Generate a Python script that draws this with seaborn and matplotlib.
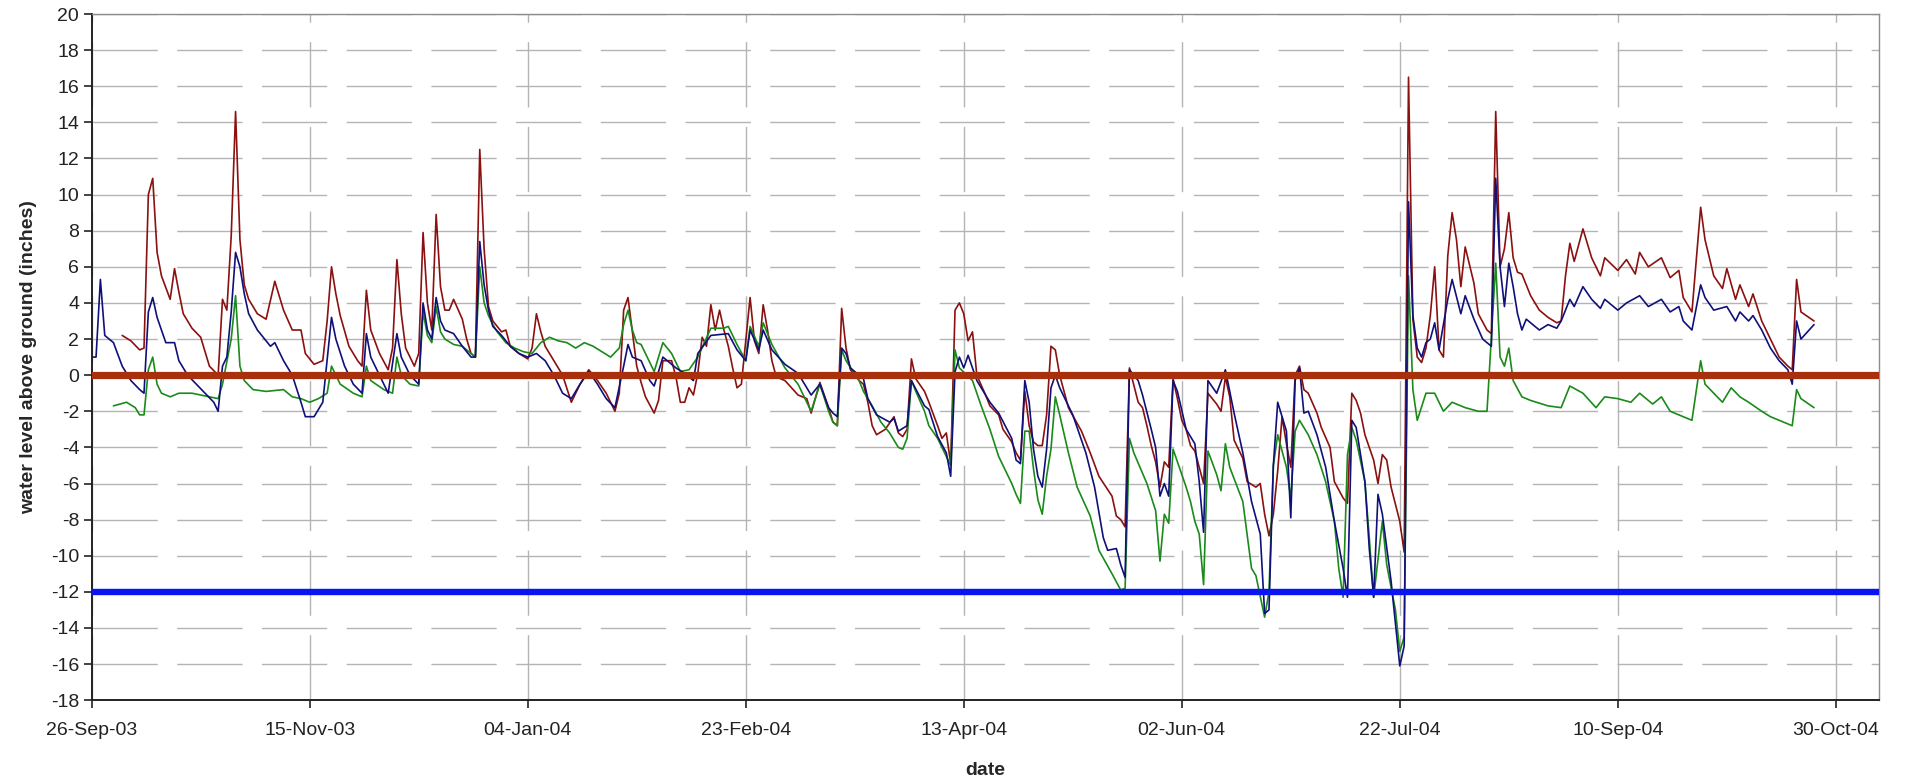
import pandas as pd
import matplotlib
matplotlib.use('Agg')
import matplotlib.pyplot as plt
import matplotlib.dates as mdates
import seaborn as sns

START = pd.Timestamp('2003-09-26')

# (day since 26-Sep-03, water level in inches)
red_pts = [(7, 2.2), (9, 1.9), (11, 1.4), (12, 1.5), (13, 10.0), (14, 10.9), (15, 6.8), (16, 5.5), (18, 4.2), (19, 5.9), (20, 4.6), (21, 3.4), (23, 2.6), (25, 2.1), (27, 0.5), (29, 0.0), (30, 4.2), (31, 3.6), (32, 7.7), (33, 14.6), (34, 7.5), (35, 5.0), (36, 4.2), (38, 3.4), (40, 3.1), (42, 5.2), (44, 3.6), (46, 2.5), (48, 2.5), (49, 1.2), (51, 0.6), (53, 0.8), (54, 3.0), (55, 6.0), (56, 4.5), (57, 3.3), (59, 1.6), (61, 0.8), (62, 0.5), (63, 4.7), (64, 2.5), (66, 1.2), (68, 0.3), (69, 1.5), (70, 6.4), (71, 3.4), (72, 1.5), (74, 0.5), (75, 1.2), (76, 7.9), (77, 4.0), (78, 2.5), (79, 8.9), (80, 4.9), (81, 3.6), (82, 3.6), (83, 4.2), (85, 3.1), (86, 2.0), (87, 1.2), (88, 1.0), (89, 12.5), (90, 7.0), (91, 3.8), (92, 3.0), (94, 2.4), (95, 2.5), (96, 1.6), (98, 1.2), (100, 0.9), (101, 1.5), (102, 3.4), (103, 2.4), (104, 1.6), (106, 0.8), (108, 0.0), (110, -1.5), (112, -0.5), (114, 0.3), (116, -0.3), (118, -1.0), (120, -2.0), (121, -1.0), (122, 3.6), (123, 4.3), (124, 2.4), (125, 0.5), (126, -0.4), (127, -1.2), (129, -2.1), (130, -1.4), (131, 0.8), (133, 0.8), (134, -0.1), (135, -1.5), (136, -1.5), (137, -0.7), (138, -1.1), (139, 0.1), (140, 2.1), (141, 1.6), (142, 3.9), (143, 2.5), (144, 3.6), (145, 2.5), (146, 1.6), (147, 0.4), (148, -0.7), (149, -0.5), (151, 4.3), (152, 1.9), (153, 1.2), (154, 3.9), (155, 2.5), (156, 0.8), (157, -0.1), (159, -0.3), (162, -1.1), (164, -1.3), (165, -2.1), (167, -0.4), (169, -1.8), (170, -2.6), (171, -2.8), (172, 3.7), (173, 1.5), (174, 0.3), (176, -0.3), (177, -0.5), (178, -1.5), (179, -2.8), (180, -3.3), (182, -3.0), (184, -2.3), (185, -3.2), (186, -3.4), (187, -3.0), (188, 0.9), (189, -0.2), (191, -0.9), (192, -1.5), (194, -2.8), (195, -3.5), (196, -3.2), (197, -4.9), (198, 3.6), (199, 4.0), (200, 3.4), (201, 1.9), (202, 2.4), (203, 0.0), (205, -1.1), (206, -1.7), (208, -2.2), (209, -3.0), (211, -3.7), (212, -4.3), (213, -4.7), (214, -0.9), (215, -2.8), (216, -3.7), (217, -3.9), (218, -3.9), (219, -2.2), (220, 1.6), (221, 1.4), (222, 0.0), (224, -1.8), (227, -3.1), (229, -4.3), (231, -5.6), (234, -6.7), (235, -7.8), (236, -8.0), (237, -8.4), (238, 0.4), (240, -1.5), (241, -1.8), (242, -2.8), (243, -3.9), (244, -4.8), (245, -6.2), (246, -4.8), (247, -5.1), (248, -0.2), (249, -1.3), (250, -2.5), (251, -3.0), (252, -3.9), (253, -4.2), (255, -6.0), (256, -1.0), (258, -1.6), (259, -2.0), (260, -0.1), (261, -1.2), (262, -3.6), (264, -4.6), (265, -5.9), (267, -6.2), (268, -6.0), (269, -7.7), (270, -8.9), (271, -7.7), (272, -5.3), (273, -2.3), (274, -3.8), (275, -5.1), (276, 0.0), (277, 0.5), (278, -0.8), (279, -1.0), (281, -2.1), (282, -2.9), (284, -4.0), (285, -5.9), (287, -6.8), (288, -7.1), (289, -1.0), (290, -1.4), (291, -2.1), (292, -3.3), (294, -4.7), (295, -6.0), (296, -4.4), (297, -4.7), (298, -6.2), (300, -8.1), (301, -9.8), (302, 16.5), (303, 3.1), (304, 1.0), (305, 0.7), (306, 1.5), (307, 3.3), (308, 6.0), (309, 1.4), (310, 1.0), (311, 6.6), (312, 9.0), (313, 7.5), (314, 4.9), (315, 7.1), (317, 5.1), (318, 3.4), (320, 2.5), (321, 2.3), (322, 14.6), (323, 6.0), (324, 7.0), (325, 9.0), (326, 6.5), (327, 5.7), (328, 5.6), (330, 4.4), (332, 3.6), (334, 3.2), (336, 2.9), (337, 3.0), (338, 5.5), (339, 7.3), (340, 6.3), (342, 8.1), (344, 6.5), (346, 5.5), (347, 6.5), (350, 5.8), (352, 6.4), (354, 5.6), (355, 6.8), (357, 6.0), (360, 6.5), (362, 5.4), (364, 5.8), (365, 4.3), (367, 3.5), (369, 9.3), (370, 7.5), (372, 5.5), (374, 4.8), (375, 5.9), (377, 4.2), (378, 5.0), (380, 3.8), (381, 4.5), (383, 3.0), (385, 2.0), (387, 1.0), (389, 0.5), (390, 0.3), (391, 5.3), (392, 3.5), (395, 3.0)]

blue_pts = [(0, 1.0), (1, 1.0), (2, 5.3), (3, 2.2), (5, 1.8), (7, 0.5), (9, -0.3), (11, -0.8), (12, -1.0), (13, 3.5), (14, 4.3), (15, 3.2), (17, 1.8), (19, 1.8), (20, 0.8), (22, 0.0), (24, -0.5), (26, -1.0), (28, -1.5), (29, -2.0), (30, 0.5), (31, 1.0), (32, 3.5), (33, 6.8), (34, 6.0), (35, 4.5), (36, 3.4), (38, 2.5), (41, 1.6), (42, 1.8), (44, 0.8), (46, 0.0), (48, -1.5), (49, -2.3), (51, -2.3), (53, -1.5), (55, 3.2), (56, 2.0), (58, 0.5), (60, -0.5), (62, -1.0), (63, 2.3), (64, 1.0), (66, 0.0), (68, -1.0), (70, 2.3), (71, 1.0), (73, 0.0), (75, -0.5), (76, 4.0), (77, 2.5), (78, 2.0), (79, 4.3), (80, 3.0), (81, 2.5), (82, 2.4), (83, 2.3), (85, 1.6), (87, 1.0), (88, 1.0), (89, 7.4), (90, 5.0), (91, 3.6), (92, 2.7), (94, 2.2), (96, 1.6), (98, 1.2), (100, 1.0), (102, 1.2), (104, 0.8), (106, 0.0), (108, -1.0), (110, -1.3), (112, -0.5), (114, 0.2), (116, -0.5), (118, -1.3), (120, -1.8), (122, 0.5), (123, 1.7), (124, 1.0), (126, 0.8), (128, -0.3), (129, -0.6), (131, 1.0), (134, 0.4), (136, 0.1), (138, -0.3), (139, 1.2), (142, 2.2), (146, 2.3), (148, 1.4), (150, 0.8), (151, 2.5), (153, 1.4), (154, 2.5), (156, 1.4), (159, 0.6), (162, 0.1), (165, -1.1), (167, -0.5), (169, -1.8), (170, -2.1), (171, -2.3), (172, 1.5), (173, 1.2), (174, 0.4), (177, -0.2), (178, -1.3), (180, -2.2), (183, -2.6), (184, -2.4), (185, -3.1), (187, -2.8), (188, -0.3), (191, -1.7), (192, -1.9), (194, -3.4), (196, -4.3), (197, -5.6), (198, 0.2), (199, 1.0), (200, 0.4), (201, 1.1), (203, -0.3), (206, -1.5), (208, -2.1), (211, -3.5), (212, -4.7), (213, -4.9), (214, -0.3), (215, -1.5), (216, -4.1), (217, -5.6), (218, -6.2), (219, -4.1), (220, -0.7), (221, 0.0), (222, -0.7), (225, -2.2), (228, -4.3), (230, -6.2), (232, -9.0), (233, -9.7), (235, -9.6), (236, -10.5), (237, -11.2), (238, 0.3), (240, -0.3), (241, -1.1), (243, -3.0), (244, -4.0), (245, -6.7), (246, -6.0), (247, -6.7), (248, -0.3), (249, -0.9), (251, -3.0), (253, -3.8), (254, -5.9), (255, -8.7), (256, -0.3), (258, -1.0), (260, 0.3), (262, -2.1), (264, -4.3), (266, -7.0), (268, -8.8), (269, -13.2), (270, -13.0), (271, -5.0), (272, -1.5), (274, -3.1), (275, -7.9), (276, -0.3), (277, 0.4), (278, -2.1), (279, -2.0), (281, -3.3), (283, -5.1), (285, -8.1), (287, -10.7), (288, -12.3), (289, -2.5), (290, -2.9), (292, -5.9), (293, -9.6), (294, -12.3), (295, -6.6), (296, -7.7), (298, -11.4), (300, -16.1), (301, -15.0), (302, 9.6), (303, 3.3), (304, 1.5), (305, 1.0), (306, 1.8), (307, 2.0), (308, 2.9), (309, 1.4), (311, 4.2), (312, 5.3), (314, 3.4), (315, 4.4), (317, 3.1), (319, 2.0), (321, 1.6), (322, 10.9), (323, 6.0), (324, 3.8), (325, 6.2), (326, 4.9), (327, 3.4), (328, 2.5), (329, 3.1), (332, 2.5), (334, 2.8), (336, 2.6), (337, 3.0), (339, 4.2), (340, 3.8), (342, 4.9), (344, 4.2), (346, 3.7), (347, 4.2), (350, 3.6), (352, 4.0), (355, 4.4), (357, 3.8), (360, 4.2), (362, 3.5), (364, 3.8), (365, 3.0), (367, 2.5), (369, 5.0), (370, 4.3), (372, 3.6), (375, 3.8), (377, 3.0), (378, 3.5), (380, 3.0), (381, 3.3), (383, 2.5), (385, 1.5), (387, 0.8), (389, 0.3), (390, -0.5), (391, 3.0), (392, 2.0), (395, 2.8)]

green_pts = [(5, -1.7), (8, -1.5), (10, -1.8), (11, -2.2), (12, -2.2), (13, 0.3), (14, 1.0), (15, -0.5), (16, -1.0), (18, -1.2), (20, -1.0), (23, -1.0), (27, -1.2), (29, -1.3), (30, -0.5), (32, 2.0), (33, 4.4), (34, 0.5), (35, -0.3), (37, -0.8), (40, -0.9), (44, -0.8), (46, -1.2), (48, -1.3), (50, -1.5), (52, -1.3), (54, -1.0), (55, 0.5), (57, -0.5), (60, -1.0), (62, -1.2), (63, 0.5), (64, -0.3), (67, -0.8), (69, -1.0), (70, 1.0), (71, 0.0), (73, -0.5), (75, -0.6), (76, 3.5), (77, 2.2), (78, 1.8), (79, 3.8), (80, 2.4), (81, 2.0), (83, 1.7), (85, 1.6), (87, 1.2), (88, 1.0), (89, 6.0), (90, 4.0), (91, 3.3), (92, 2.8), (93, 2.4), (95, 1.8), (97, 1.5), (99, 1.3), (101, 1.2), (103, 1.8), (105, 2.1), (107, 1.9), (109, 1.8), (111, 1.5), (113, 1.8), (115, 1.6), (117, 1.3), (119, 1.0), (121, 1.5), (122, 2.8), (123, 3.6), (124, 2.5), (125, 1.8), (126, 1.7), (127, 1.2), (129, 0.2), (131, 1.8), (133, 1.2), (135, 0.2), (137, 0.3), (139, 1.0), (142, 2.6), (145, 2.6), (146, 2.7), (148, 1.7), (150, 0.8), (151, 2.7), (153, 1.6), (154, 2.9), (156, 1.7), (159, 0.4), (162, -0.5), (165, -2.0), (167, -0.5), (169, -2.0), (170, -2.6), (171, -2.8), (172, 1.4), (173, 0.8), (176, -0.3), (177, -0.9), (179, -1.7), (181, -2.6), (183, -3.2), (185, -4.0), (186, -4.1), (187, -3.5), (188, -0.3), (189, -0.9), (191, -2.0), (192, -2.8), (194, -3.5), (196, -4.5), (197, -5.0), (198, 1.4), (199, 0.4), (202, -0.3), (204, -1.7), (206, -3.0), (208, -4.5), (211, -6.0), (212, -6.6), (213, -7.1), (214, -3.1), (215, -3.1), (216, -5.2), (217, -6.9), (218, -7.7), (219, -5.6), (220, -4.1), (221, -1.2), (222, -2.2), (224, -4.3), (226, -6.2), (229, -7.8), (231, -9.7), (234, -11.0), (236, -11.9), (237, -11.8), (238, -3.5), (239, -4.3), (242, -6.0), (244, -7.5), (245, -10.3), (246, -7.7), (247, -8.2), (248, -4.1), (249, -4.8), (251, -6.2), (252, -7.0), (253, -8.1), (254, -8.8), (255, -11.6), (256, -4.2), (258, -5.5), (259, -6.4), (260, -3.8), (261, -5.1), (264, -7.0), (266, -10.7), (267, -11.1), (269, -13.4), (270, -12.0), (271, -5.0), (272, -3.3), (274, -5.1), (275, -6.8), (276, -3.1), (277, -2.5), (278, -2.9), (279, -3.3), (281, -4.4), (283, -5.9), (285, -8.1), (286, -10.7), (287, -12.3), (288, -4.4), (289, -2.9), (290, -3.6), (292, -5.9), (293, -9.0), (294, -12.3), (296, -8.1), (297, -10.5), (299, -13.0), (300, -15.3), (301, -14.5), (302, 5.5), (303, -0.8), (304, -2.5), (306, -1.0), (308, -1.0), (310, -2.0), (312, -1.5), (315, -1.8), (318, -2.0), (320, -2.0), (322, 6.2), (323, 1.0), (324, 0.5), (325, 1.5), (326, -0.3), (328, -1.2), (330, -1.4), (334, -1.7), (337, -1.8), (339, -0.6), (342, -1.0), (345, -1.8), (347, -1.2), (350, -1.3), (353, -1.5), (355, -1.0), (358, -1.6), (360, -1.2), (362, -2.0), (365, -2.3), (367, -2.5), (369, 0.8), (370, -0.5), (372, -1.0), (374, -1.5), (376, -0.7), (378, -1.2), (380, -1.5), (383, -2.0), (385, -2.3), (387, -2.5), (390, -2.8), (391, -0.8), (392, -1.3), (395, -1.8)]

ground_level = 0
lower_limit = -12

y_ticks = list(range(-18, 21, 2))
x_tick_step_days = 50
x_end = pd.Timestamp('2004-11-09')


def to_frame(pts):
	df = pd.DataFrame(pts, columns=['day', 'level'])
	df['date'] = START + pd.to_timedelta(df['day'], unit='D')
	return df


sns.set_style('white')
plt.rcParams['font.family'] = ['Liberation Sans', 'DejaVu Sans']
plt.rcParams['axes.unicode_minus'] = False

fig = plt.figure(figsize=(19.1, 7.78), dpi=100)
ax = fig.add_axes([0.048, 0.100, 0.936, 0.882])

grid_kw = dict(color='#b4b4b4', linewidth=1.0, linestyle=(0, (47, 14)))
ax.grid(True, axis='both', **grid_kw)
ax.set_axisbelow(True)

sns.lineplot(data=to_frame(red_pts), x='date', y='level', color='#8b1010', linewidth=1.2, ax=ax)
sns.lineplot(data=to_frame(green_pts), x='date', y='level', color='#1a8a1a', linewidth=1.2, ax=ax)
sns.lineplot(data=to_frame(blue_pts), x='date', y='level', color='#10107a', linewidth=1.2, ax=ax)

ax.axhline(ground_level, color='#a8300c', linewidth=5.2, zorder=5)
ax.axhline(lower_limit, color='#0a14f0', linewidth=4.6, zorder=5)

ax.set_ylim(-18, 20)
ax.set_yticks(y_ticks)
ax.set_xlim(START, x_end)
ax.set_xticks(pd.date_range(START, x_end, freq='%dD' % x_tick_step_days))
ax.xaxis.set_major_formatter(mdates.DateFormatter('%d-%b-%y'))

ax.tick_params(axis='both', direction='out', length=6, width=1.2, colors='#222222',
	labelsize=14, labelcolor='#222222', left=True, bottom=True)
ax.tick_params(axis='x', pad=10)
ax.tick_params(axis='y', pad=3)

for side in ['left', 'bottom']:
	ax.spines[side].set_color('#222222')
	ax.spines[side].set_linewidth(1.4)
for side in ['top', 'right']:
	ax.spines[side].set_color('#8c8c8c')
	ax.spines[side].set_linewidth(1.0)

ax.set_xlabel('date', fontsize=14, fontweight='bold', labelpad=16)
ax.set_ylabel('water level above ground (inches)', fontsize=14, fontweight='bold', labelpad=10)

fig.savefig('out.png', dpi=100)
